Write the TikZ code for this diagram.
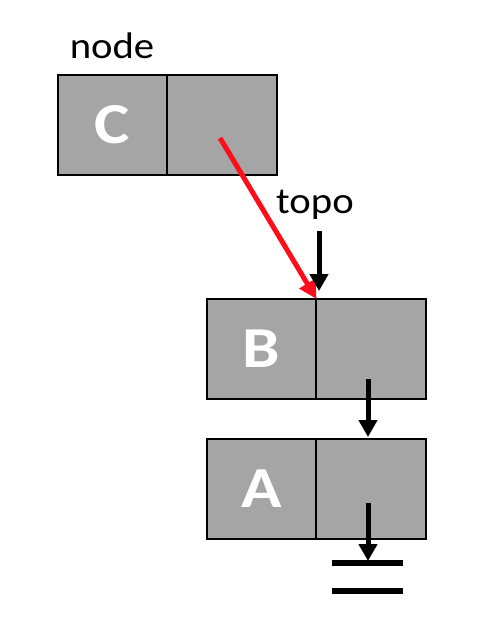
\documentclass[tikz,border=0pt]{standalone}
\usepackage{fontspec}
\setmainfont{Carlito}
\usetikzlibrary{arrows.meta}
\definecolor{cellgray}{HTML}{A5A5A5}
\definecolor{arrred}{HTML}{FF0D1A}
\tikzset{
  cell/.style={draw=black, line width=2pt, fill=cellgray, minimum width=110pt, minimum height=100pt, inner sep=0pt, outer sep=0pt, text=white, font=\fontsize{58}{62}\selectfont\bfseries},
  lbl/.style={font=\fontsize{37}{40}\selectfont, xscale=1.1, inner sep=0pt},
  blkarrow/.style={line width=5pt, -{Triangle[length=17pt,width=18pt]}},
  redarrow/.style={line width=5pt, arrred, -{Triangle[length=18pt,width=18pt]}},
  groundline/.style={line width=6pt}
}
\begin{document}
\begin{tikzpicture}[x=1pt,y=-1pt]
\useasboundingbox (0,0) rectangle (492,618);
% node C
\node[cell] (cl) at (112.5,125) {\scalebox{1.15}[1]{C}};
\node[cell] (cr) at (222,125) {};
\node[lbl] (nodelbl) at (112,46) {node};
% node B
\node[cell] (bl) at (261.5,349) {\scalebox{1.15}[1]{B}};
\node[cell] (br) at (371,349) {};
% node A
\node[cell] (al) at (261.5,488.5) {\scalebox{1.15}[1]{A}};
\node[cell] (ar) at (371,488.5) {};
% topo label
\node[lbl] (topo) at (315,205) {topo};
% coordinates
\coordinate (redstart) at (220,138);
\coordinate (topostart) at (319,231);
\coordinate (topoend) at (319,291);
\coordinate (bstart) at (368,379);
\coordinate (bend) at (368,437);
\coordinate (astart) at (368,503);
\coordinate (aend) at (368,561);
\coordinate (g1l) at (332,563);
\coordinate (g1r) at (403,563);
\coordinate (g2l) at (332,591);
\coordinate (g2r) at (403,591);
% arrows
\draw[redarrow] (redstart) -- (bl.north east);
\draw[blkarrow] (topostart) -- (topoend);
\draw[blkarrow] (bstart) -- (bend);
\draw[blkarrow] (astart) -- (aend);
\draw[groundline] (g1l) -- (g1r);
\draw[groundline] (g2l) -- (g2r);
\end{tikzpicture}
\end{document}
